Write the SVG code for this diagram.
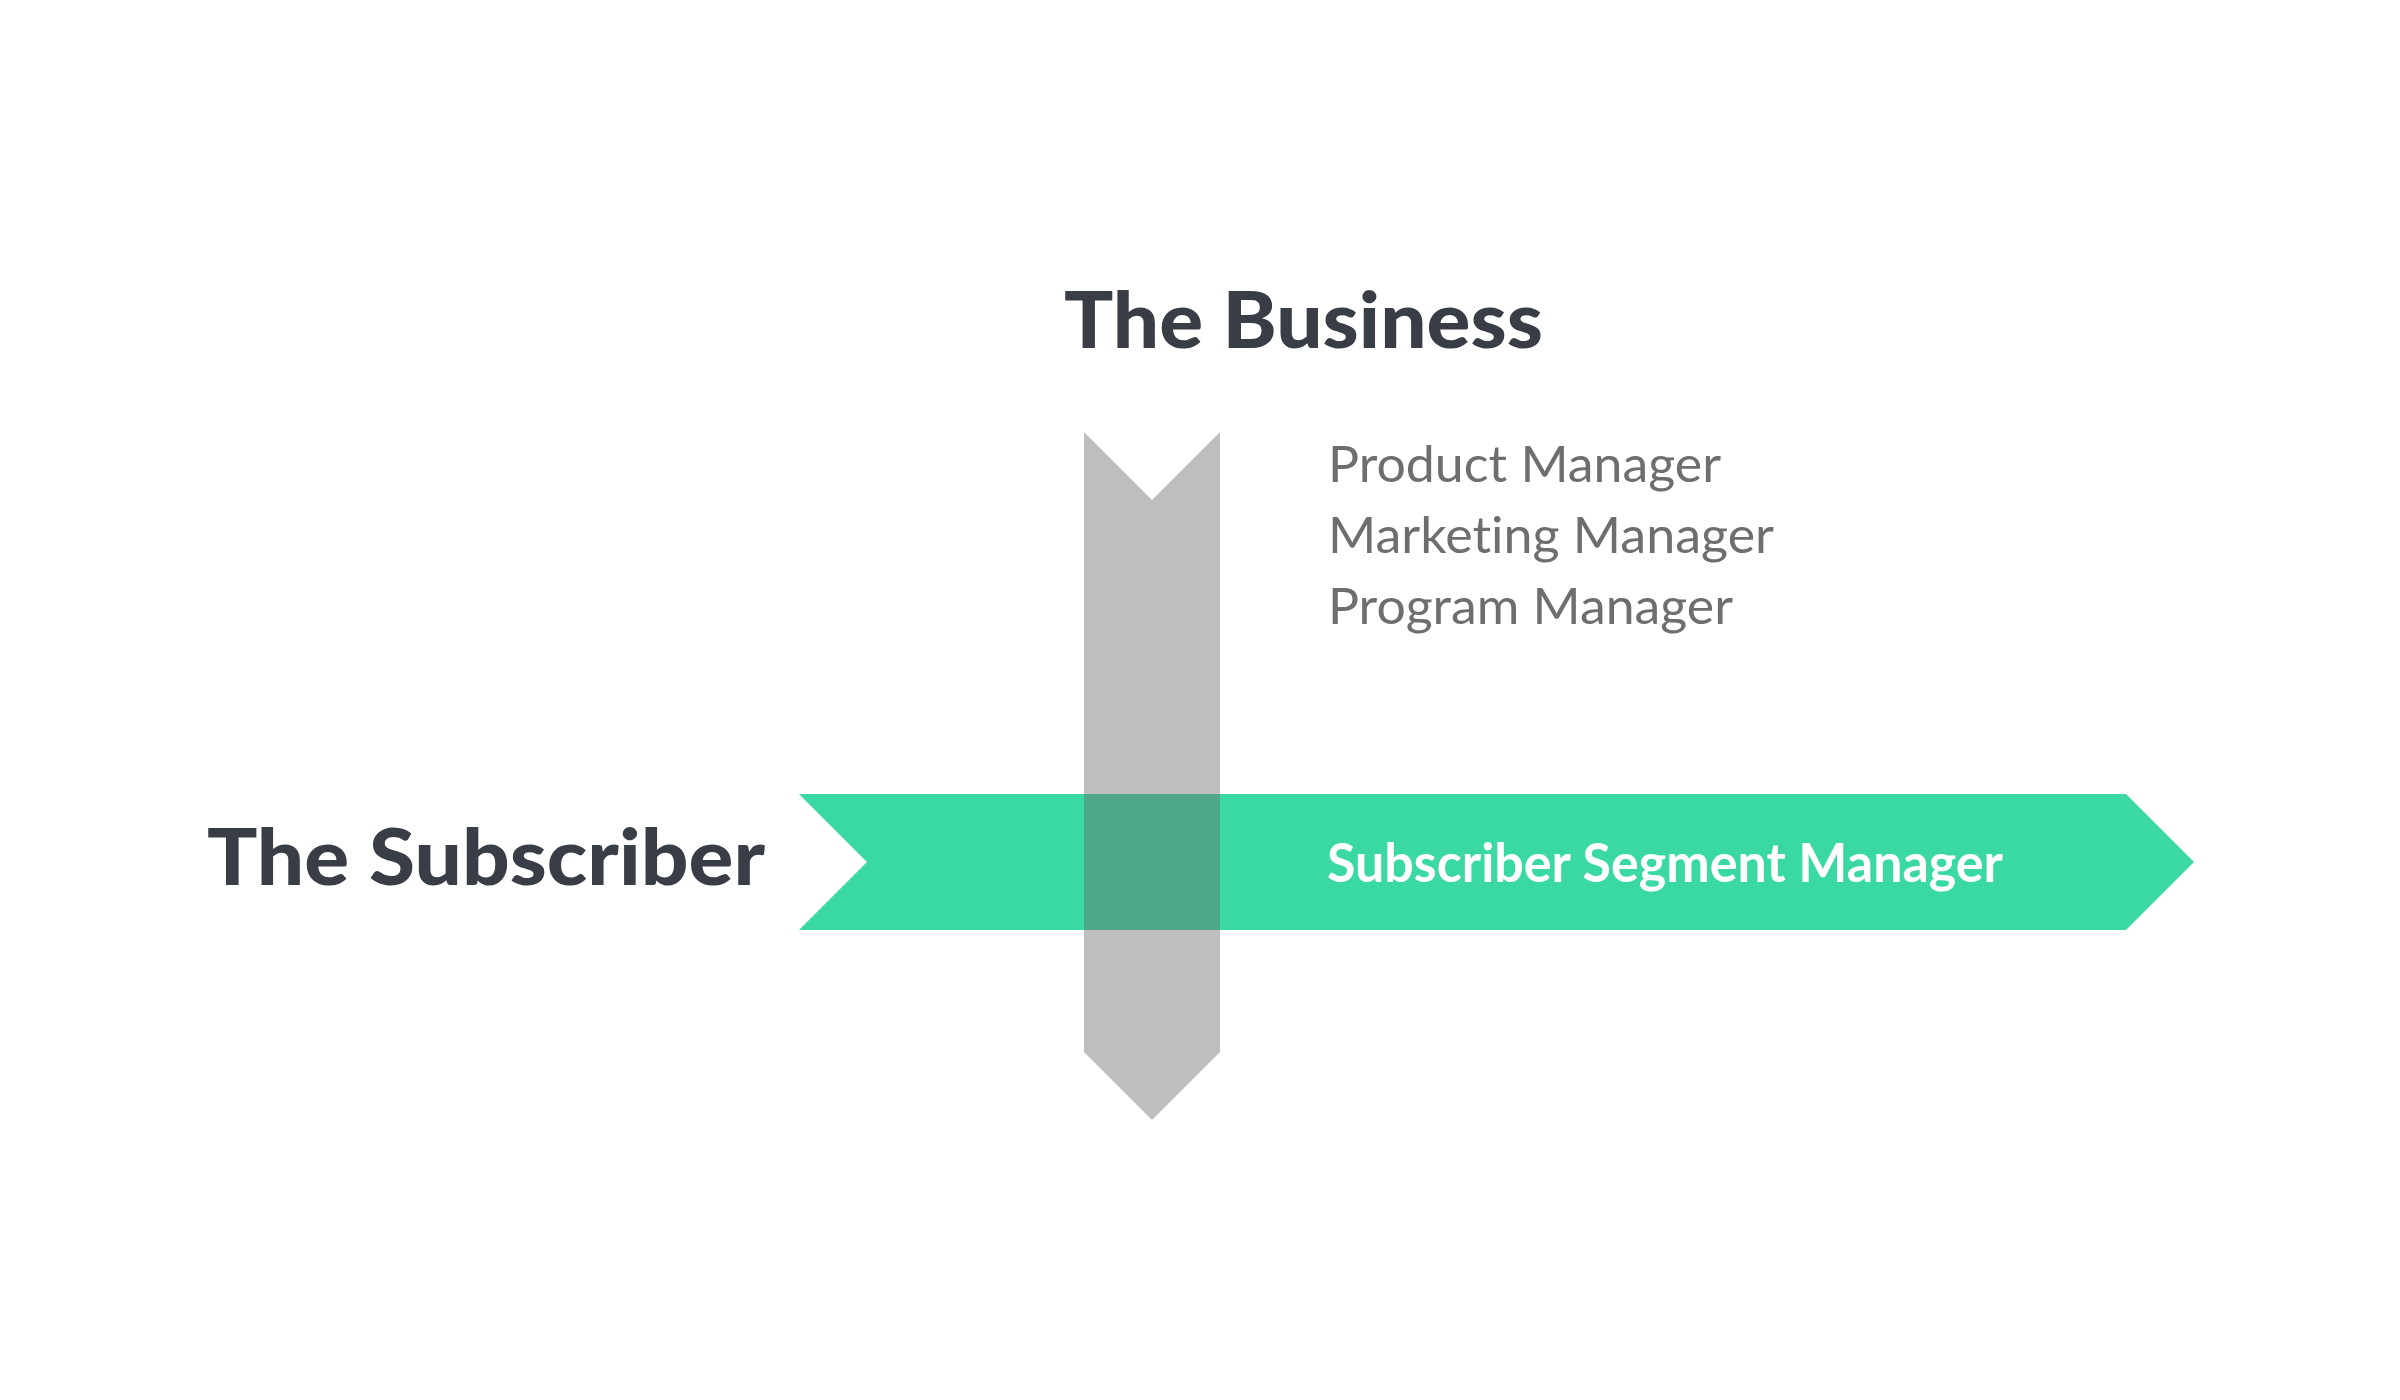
<svg xmlns="http://www.w3.org/2000/svg" width="2400" height="1400" viewBox="0 0 2400 1400">
<style>
text{font-variant-ligatures:none;font-feature-settings:"liga" 0}
.head{font-family:Lato,"Noto Sans","Liberation Sans",sans-serif;font-weight:900;font-size:78px;fill:#383d46}
.role{font-family:Lato,"Noto Sans","Liberation Sans",sans-serif;font-weight:400;font-size:51px;fill:#6e6e6e}
.band{font-family:Lato,"Noto Sans","Liberation Sans",sans-serif;font-weight:700;font-size:53px;fill:#ffffff}
</style>
<rect x="0" y="0" width="2400" height="1400" fill="#ffffff"/>
<g id="connectors">
<polygon id="business-arrow" points="1084,432 1152,500 1220,432 1220,1052 1152,1120 1084,1052" fill="#bebebe"/>
<polygon id="subscriber-arrow" points="799,794 2126,794 2194,862 2126,930 799,930 867,862" fill="#3ad9a4"/>
<rect id="overlap" x="1084" y="794" width="136" height="136" fill="#4fa887"/>
</g>
<g id="node-business">
<text class="head" x="1064" y="348" textLength="479" lengthAdjust="spacingAndGlyphs">The Business</text>
</g>
<g id="node-subscriber">
<text class="head" x="207" y="885" textLength="558" lengthAdjust="spacingAndGlyphs">The Subscriber</text>
</g>
<g id="node-roles">
<text class="role" x="1328" y="482" textLength="393" lengthAdjust="spacingAndGlyphs">Product Manager</text>
<text class="role" x="1328" y="553" textLength="446" lengthAdjust="spacingAndGlyphs">Marketing Manager</text>
<text class="role" x="1328" y="624" textLength="405" lengthAdjust="spacingAndGlyphs">Program Manager</text>
</g>
<g id="node-segment">
<text class="band" x="1327" y="882" textLength="676" lengthAdjust="spacingAndGlyphs">Subscriber Segment Manager</text>
</g>
</svg>
